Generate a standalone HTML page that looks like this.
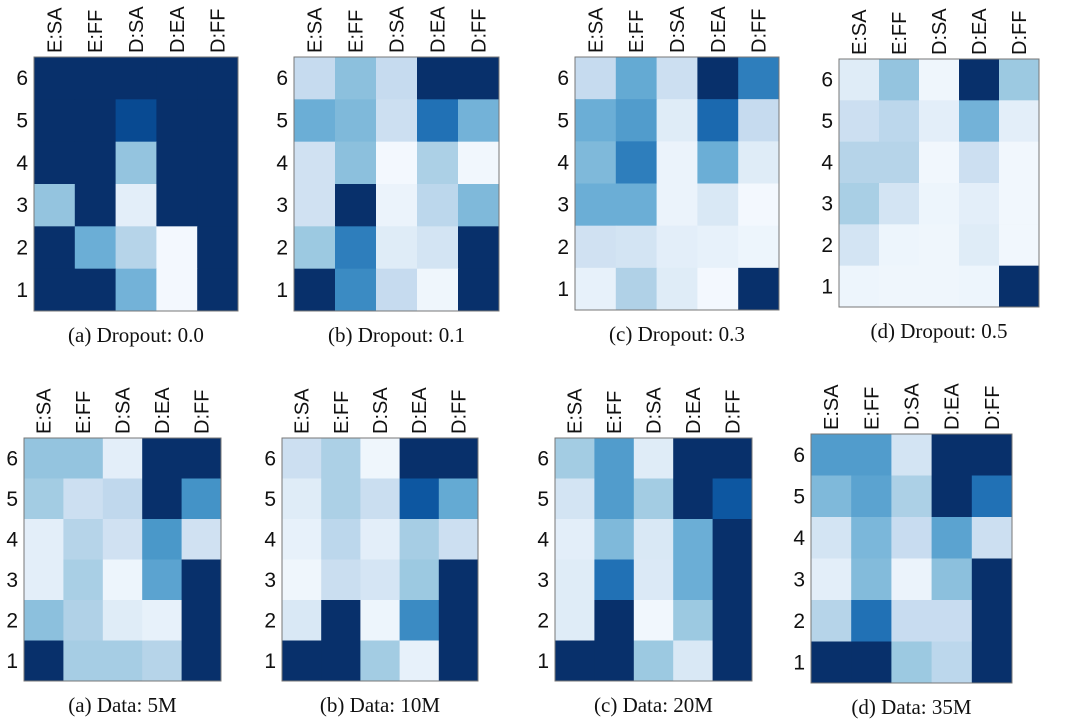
<!DOCTYPE html>
<html><head><meta charset="utf-8">
<style>
html,body{margin:0;padding:0;background:#fff;}
svg{display:block;}
</style></head>
<body>
<svg id="fig" width="1080" height="726" viewBox="0 0 1080 726" xmlns="http://www.w3.org/2000/svg"></svg>
<script>
const columns = ["E:SA","E:FF","D:SA","D:EA","D:FF"];
const rowLabels = ["6","5","4","3","2","1"];
const captions = ["(a) Dropout: 0.0","(b) Dropout: 0.1","(c) Dropout: 0.3","(d) Dropout: 0.5","(a) Data: 5M","(b) Data: 10M","(c) Data: 20M","(d) Data: 35M"];
const dropout00 = [[1,1,1,1,1],[1,1,0.9,1,1],[1,1,0.4,1,1],[0.4,1,0.1,1,1],[1,0.5,0.3,0.02,1],[1,1,0.48,0.02,1]];
const dropout01 = [[0.25,0.42,0.25,1,1],[0.5,0.45,0.22,0.75,0.48],[0.2,0.42,0.02,0.33,0.03],[0.2,1,0.06,0.28,0.45],[0.38,0.7,0.12,0.18,1],[1,0.65,0.25,0.04,1]];
const dropout03 = [[0.25,0.52,0.22,1,0.7],[0.5,0.58,0.12,0.78,0.25],[0.45,0.7,0.06,0.5,0.12],[0.5,0.5,0.06,0.15,0.02],[0.2,0.18,0.1,0.08,0.05],[0.08,0.32,0.12,0.02,1]];
const dropout05 = [[0.12,0.4,0.04,1,0.38],[0.22,0.28,0.1,0.48,0.1],[0.3,0.3,0.03,0.22,0.03],[0.34,0.18,0.05,0.1,0.03],[0.18,0.05,0.04,0.12,0.03],[0.05,0.04,0.04,0.05,1]];
const data5M = [[0.4,0.4,0.1,1,1],[0.36,0.22,0.27,1,0.62],[0.1,0.3,0.2,0.6,0.2],[0.1,0.34,0.05,0.55,1],[0.42,0.32,0.12,0.08,1],[1,0.35,0.35,0.3,1]];
const data10M = [[0.22,0.33,0.04,1,1],[0.12,0.33,0.23,0.85,0.52],[0.08,0.28,0.1,0.35,0.22],[0.04,0.23,0.17,0.38,1],[0.15,1,0.05,0.65,1],[1,1,0.36,0.08,1]];
const data20M = [[0.36,0.58,0.12,1,1],[0.18,0.58,0.36,1,0.85],[0.1,0.45,0.15,0.5,1],[0.12,0.75,0.14,0.5,1],[0.12,1,0.03,0.38,1],[1,1,0.38,0.15,1]];
const data35M = [[0.58,0.58,0.18,1,1],[0.45,0.55,0.33,1,0.75],[0.18,0.46,0.24,0.55,0.22],[0.1,0.44,0.06,0.42,1],[0.3,0.75,0.24,0.24,1],[1,1,0.38,0.28,1]];
const matrices = [dropout00,dropout01,dropout03,dropout05,data5M,data10M,data20M,data35M];

const boxes = [[34,57,238,311],[294,57,499,311],[575,57,779,310],[839,59,1039,307],
               [24,438,221,681],[282,438,478,681],[555,438,752,681],[811,434,1012,683]];
const stops = ["#f7fbff","#deebf7","#c6dbef","#9ecae1","#6baed6","#4292c6","#2171b5","#08519c","#08306b"];
function hex(h){return [1,3,5].map(i=>parseInt(h.substr(i,2),16));}
function color(v){
  v=Math.max(0,Math.min(1,v));const t=v*8;const i=Math.min(7,Math.floor(t));const f=t-i;
  const a=hex(stops[i]),b=hex(stops[i+1]);
  return "rgb("+a.map((c,k)=>Math.round(c+(b[k]-c)*f)).join(",")+")";
}
const NS="http://www.w3.org/2000/svg";
const svg=document.getElementById("fig");
function mk(tag,attrs,parent){const e=document.createElementNS(NS,tag);for(const k in attrs)e.setAttribute(k,attrs[k]);parent.appendChild(e);return e;}
matrices.forEach((m,p)=>{
  const [x0,y0,x1,y1]=boxes[p];
  const g=mk("g",{},svg);
  
  
  const cw=(x1-x0)/columns.length, rh=(y1-y0)/rowLabels.length;
  const xs=c=>x0+c*cw, ys=r=>y0+r*rh;
  m.forEach((row,r)=>row.forEach((v,c)=>{
    const rect=mk("rect",{x:xs(c),y:ys(r),width:cw+0.5,height:rh+0.5,fill:color(v)},g);
    
    
  }));
  const fr=mk("rect",{x:x0,y:y0,width:x1-x0,height:y1-y0,fill:"none",stroke:"#777","stroke-width":1},g);
  
  
  columns.forEach((lab,c)=>{
    const cx=xs(c)+cw/2+7, by=y0-4;
    const t=mk("text",{x:0,y:0,transform:"translate("+cx+","+by+") rotate(-90)","font-family":"Liberation Sans, sans-serif","font-size":"20",fill:"#111"},g);
    t.textContent=lab;
    
    
  });
  rowLabels.forEach((lab,r)=>{
    const t=mk("text",{x:x0-6,y:ys(r)+rh/2+7,"text-anchor":"end","font-family":"Liberation Sans, sans-serif","font-size":"21",fill:"#111"},g);
    t.textContent=lab;
    
    
  });
  const cap=mk("text",{x:(x0+x1)/2,y:y1+31,"text-anchor":"middle","font-family":"Liberation Serif, serif","font-size":"21",fill:"#111"},g);
  cap.textContent=captions[p];
  
  
});
</script>
</body></html>
